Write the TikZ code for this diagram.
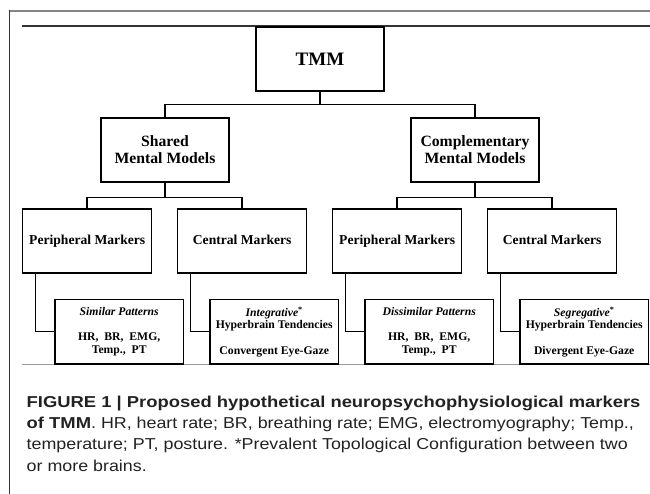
\documentclass[tikz,border=0pt]{standalone}
\usepackage{fontspec}
\setmainfont{Liberation Serif}
\newfontfamily\capfont[FakeStretch=1.13, BoldFeatures={FakeStretch=1.165}]{Liberation Sans}
\usetikzlibrary{calc}
\definecolor{framegray}{HTML}{858585}
\definecolor{rulegray}{HTML}{9A9A9A}
\definecolor{capgray}{HTML}{222222}
\tikzstyle{block} = [rectangle, draw, line width=1.5pt,
    text centered, align=center, minimum width=128pt, minimum height=64pt,
    font=\bfseries\fontsize{15.7}{17}\selectfont]
\tikzstyle{marker} = [block, minimum width=129pt, text height=9.5pt, text depth=3pt,
    font=\bfseries\fontsize{13.6}{16.3}\selectfont]
\tikzstyle{detail} = [block, minimum width=128.5pt, minimum height=64.5pt,
    font=\bfseries\fontsize{11.7}{12.6}\selectfont]
\tikzstyle{link} = [draw, line width=1.5pt]
\tikzstyle{captext} = [anchor=base west, inner sep=0pt, text=capgray,
    font=\capfont\fontsize{15.8}{21.3}\selectfont]

\begin{document}
\begin{tikzpicture}[x=1pt, y=-1pt, node distance=155pt]
    \useasboundingbox (0,0) rectangle (650,494);
    % Frame and rules
    \draw [framegray, line width=2pt] (9,11) -- (650,11);
    \draw [black!80, line width=1.5pt] (9.5,10) -- (9.5,494);
    \draw [black!80, line width=1.2pt] (22,26) -- (650,26);
    \draw [rulegray, line width=1pt] (22,364) -- (650,364);

    % Nodes
    \node [block, font=\bfseries\fontsize{19}{22}\selectfont] (tmm) at (320,59) {TMM};
    \node [block] (shared) at (165,150) {Shared\\Mental Models};
    \node [block, right of=shared, node distance=310pt] (compl) {Complementary\\Mental Models};

    \node [marker] (per1) at (87.2,241) {Peripheral Markers};
    \node [marker, right of=per1] (cen1) {Central Markers};
    \node [marker, right of=cen1] (per2) {Peripheral Markers};
    \node [marker, right of=per2] (cen2) {Central Markers};

    % Marker details
    \node [detail, below of=per1, node distance=90.7pt, xshift=32pt] (similar)
        {\textit{Similar Patterns}\\[12.6pt] HR,\ \ BR,\ \ EMG,\\Temp.,\ \ PT};
    \node [detail, below of=cen1, node distance=90.7pt, xshift=32pt] (integr)
        {\textit{Integrative}\textsuperscript{*}\\Hyperbrain Tendencies\\[12.6pt] Convergent Eye-Gaze};
    \node [detail, below of=per2, node distance=90.7pt, xshift=32pt] (dissim)
        {\textit{Dissimilar Patterns}\\[12.6pt] HR,\ \ BR,\ \ EMG,\\Temp.,\ \ PT};
    \node [detail, below of=cen2, node distance=90.7pt, xshift=32pt] (segr)
        {\textit{Segregative}\textsuperscript{*}\\Hyperbrain Tendencies\\[12.6pt] Divergent Eye-Gaze};

    % Tree
    \draw [link] (tmm.south) -- ++(0,13) -| (shared.north);
    \draw [link] (tmm.south) -- ++(0,13) -| (compl.north);
    \draw [link] (shared.south) -- ++(0,15) -| (per1.north);
    \draw [link] (shared.south) -- ++(0,15) -| (cen1.north);
    \draw [link] (compl.south) -- ++(0,15) -| (per2.north);
    \draw [link] (compl.south) -- ++(0,15) -| (cen2.north);

    % Elbows to details
    \draw [link] ($(per1.south west)+(13.3,0)$) |- (similar.west);
    \draw [link] ($(cen1.south west)+(13.3,0)$) |- (integr.west);
    \draw [link] ($(per2.south west)+(13.3,0)$) |- (dissim.west);
    \draw [link] ($(cen2.south west)+(13.3,0)$) |- (segr.west);

    % Caption
    \node [captext] (cap1) at (26.5,407.3)
        {\bfseries FIGURE 1 | Proposed hypothetical neuropsychophysiological markers};
    \node [captext] (cap2) at (26.5,428.6)
        {\textbf{of TMM}. HR, heart rate; BR, breathing rate; EMG, electromyography; Temp.,};
    \node [captext] (cap3) at (26.5,449.9)
        {temperature; PT, posture. *Prevalent Topological Configuration between two};
    \node [captext] (cap4) at (26.5,471.2) {or more brains.};
\end{tikzpicture}
\end{document}
